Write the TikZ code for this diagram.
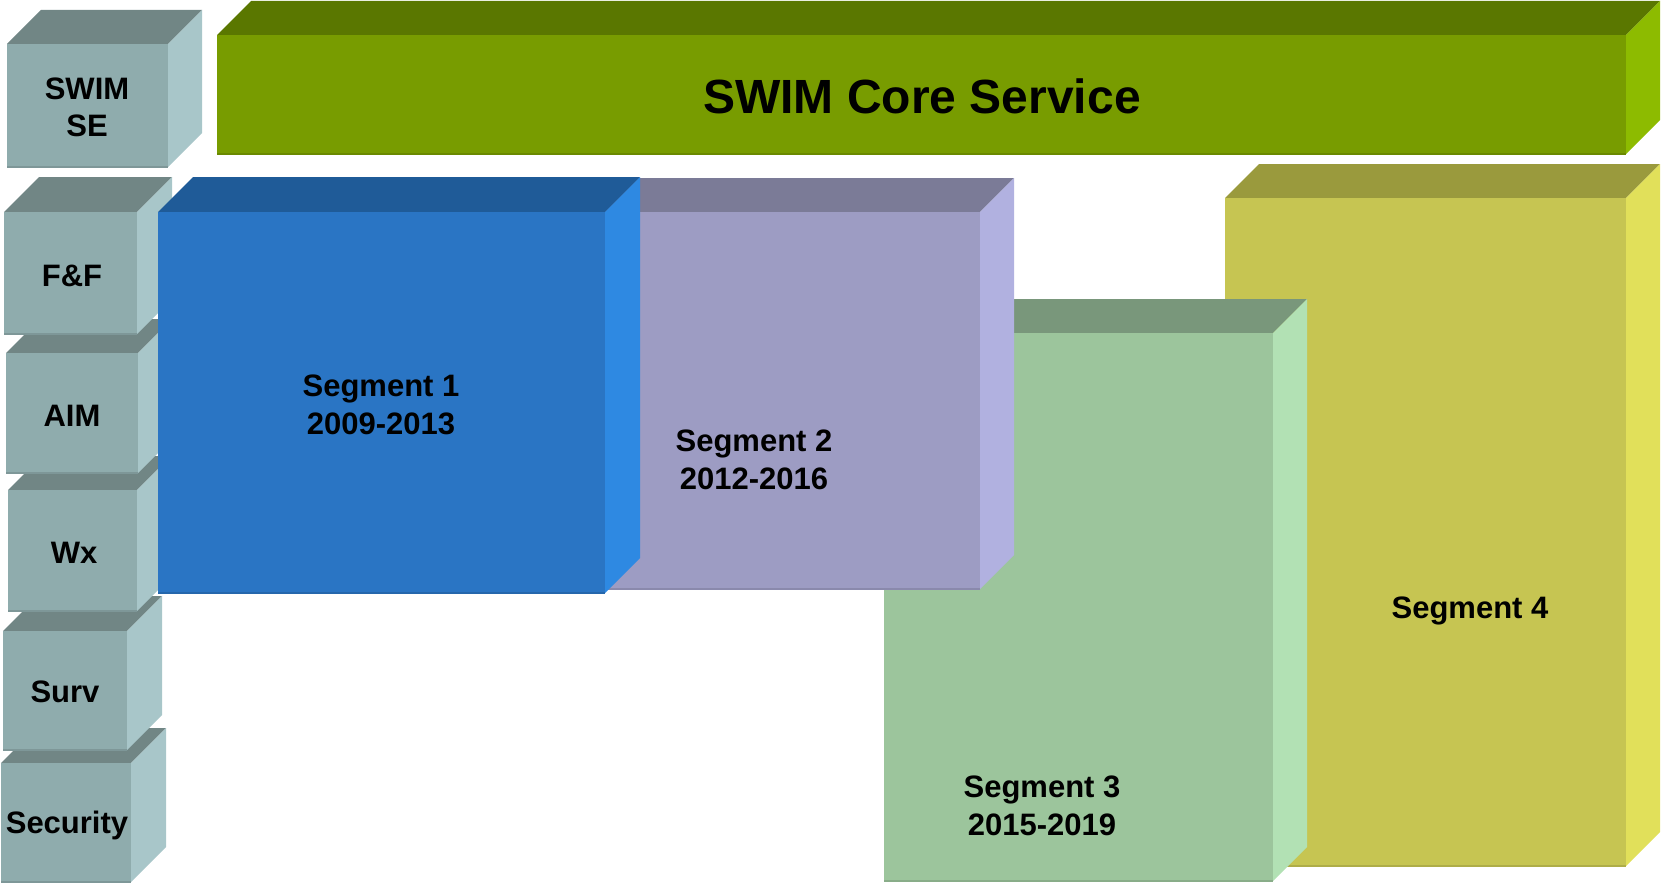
\documentclass[tikz,border=0pt]{standalone}
\usepackage{fontspec}
\setmainfont{Liberation Sans}

% face colours: front / top / side
\definecolor{greyFront}{HTML}{8FACAD}
\definecolor{greyTop}{HTML}{718685}
\definecolor{greySide}{HTML}{A8C6C9}
\definecolor{coreFront}{HTML}{789C00}
\definecolor{coreTop}{HTML}{5A7700}
\definecolor{coreSide}{HTML}{8DBB00}
\definecolor{oneFront}{HTML}{2A75C4}
\definecolor{oneTop}{HTML}{1F5B98}
\definecolor{oneSide}{HTML}{2E89E2}
\definecolor{twoFront}{HTML}{9D9CC3}
\definecolor{twoTop}{HTML}{7B7B97}
\definecolor{twoSide}{HTML}{B1B1E0}
\definecolor{threeFront}{HTML}{9CC59C}
\definecolor{threeTop}{HTML}{79977B}
\definecolor{threeSide}{HTML}{B2E1B4}
\definecolor{fourFront}{HTML}{C6C552}
\definecolor{fourTop}{HTML}{9A9A3D}
\definecolor{fourSide}{HTML}{E1E05A}

% a solid block: front corners (x1,y1) (x2,y2), depth, colour prefix
\newcommand\solidblock[6]{%
  \fill[#6Top] (#1,#2) -- (#1+#5,#2-#5) -- (#3+#5,#2-#5) -- (#3,#2) -- cycle;
  \fill[#6Side] (#3,#2) -- (#3+#5,#2-#5) -- (#3+#5,#4-#5) -- (#3,#4) -- cycle;
  \fill[#6Front] (#1,#2) rectangle (#3,#4);
  \draw[#6Front!88!black, line width=1.2] (#1,#4) -- (#3,#4);
}

\tikzset{
  blocktext/.style={font=\fontsize{31}{38}\selectfont\bfseries, align=center, inner sep=0pt},
  sidetext/.style={font=\fontsize{31}{37}\selectfont\bfseries, align=center, inner sep=0pt},
  coretext/.style={font=\fontsize{48}{56}\selectfont\bfseries, inner sep=0pt}
}

\begin{document}
\begin{tikzpicture}[x=1pt, y=-1pt]
\useasboundingbox (0,0) rectangle (1661,883);

% top row
\solidblock{217}{35}{1626}{154}{34}{core}
\solidblock{7}{44}{168}{167}{34}{grey}

% left column, lowest first
\solidblock{1}{763}{131}{882}{35}{grey}
\solidblock{3}{631}{127}{750}{35}{grey}
\solidblock{8}{490}{137}{611}{34}{grey}
\solidblock{6}{353}{138}{473}{34}{grey}
\solidblock{4}{212}{137}{334}{35}{grey}

% segments, farthest first
\solidblock{1225}{198}{1626}{866}{34}{four}
\solidblock{884}{333}{1273}{881}{34}{three}
\solidblock{527}{212}{980}{589}{34}{two}
\solidblock{158}{212}{605}{593}{35}{one}

% labels
\node[coretext, anchor=base] (core) at (922,113) {SWIM Core Service};
\node[sidetext] (swimse) at (87,107) {SWIM\\SE};
\node[sidetext, anchor=base] (ff) at (72,286) {F\&F};
\node[sidetext, anchor=base] (aim) at (72,426) {AIM};
\node[sidetext, anchor=base] (wx) at (74,563) {Wx};
\node[sidetext, anchor=base] (surv) at (65,702) {Surv};
\node[sidetext, anchor=base] (security) at (67,833) {Security};

\node[blocktext] (seg1) at (381,405) {Segment 1\\2009-2013};
\node[blocktext] (seg2) at (754,460) {Segment 2\\2012-2016};
\node[blocktext] (seg3) at (1042,806) {Segment 3\\2015-2019};
\node[blocktext, anchor=base] (seg4) at (1470,618) {Segment 4};
\end{tikzpicture}
\end{document}
